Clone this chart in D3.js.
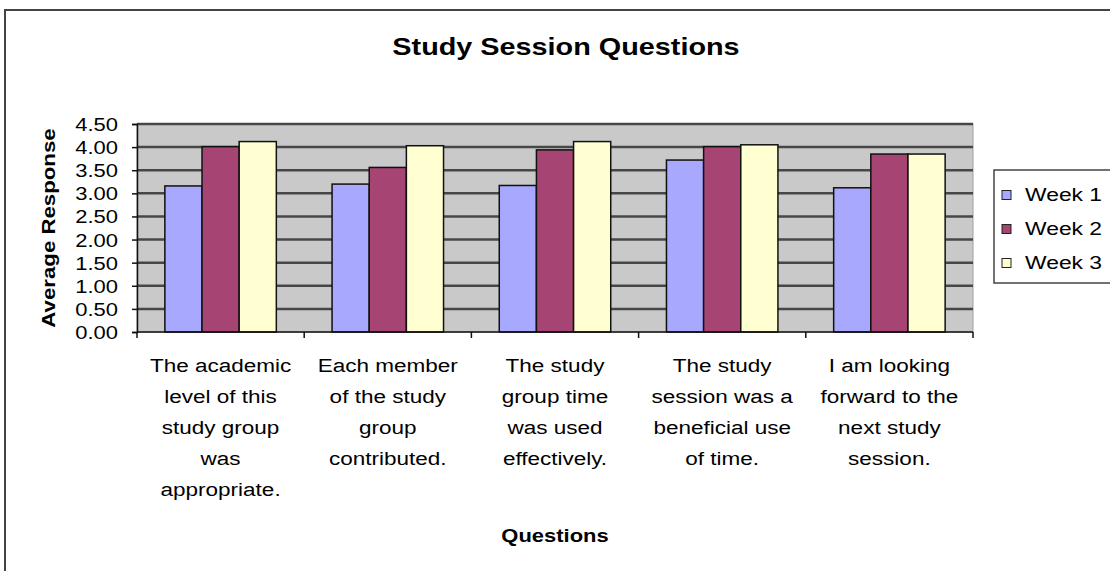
<!DOCTYPE html>
<html>
<head>
<meta charset="utf-8">
<script src="https://cdn.jsdelivr.net/npm/d3@7"></script>
<style>
  html, body { margin: 0; padding: 0; background: #fff; }
  svg { display: block; font-family: "Liberation Sans", Arial, sans-serif; }
</style>
</head>
<body>
<svg id="chart" width="1110" height="571"></svg>
<script>
// ---- data ----
const categories = [
  ["The academic", "level of this", "study group", "was", "appropriate."],
  ["Each member", "of the study", "group", "contributed."],
  ["The study", "group time", "was used", "effectively."],
  ["The study", "session was a", "beneficial use", "of time."],
  ["I am looking", "forward to the", "next study", "session."]
];
const seriesNames = ["Week 1", "Week 2", "Week 3"];
const week1 = [3.16, 3.20, 3.17, 3.72, 3.12];
const week2 = [4.01, 3.56, 3.94, 4.01, 3.85];
const week3 = [4.12, 4.03, 4.12, 4.05, 3.85];
const yTicks = [0, 0.5, 1, 1.5, 2, 2.5, 3, 3.5, 4, 4.5];
const title = "Study Session Questions";
const yTitle = "Average Response";
const xTitle = "Questions";

const seriesValues = [week1, week2, week3];
const colors = ["#a8a8ff", "#a64573", "#ffffd2"];

// ---- layout ----
const svg = d3.select("#chart");
const plot = { left: 137, right: 973, top: 124, bottom: 332 };
const STRETCH = 1.22;

function stretch(sel, f) {
  sel.each(function () {
    const len = this.getComputedTextLength();
    d3.select(this).attr("textLength", len * (f || STRETCH)).attr("lengthAdjust", "spacingAndGlyphs");
  });
}

// outer frame
svg.append("rect")
  .attr("x", 5).attr("y", 10).attr("width", 1200).attr("height", 700)
  .attr("fill", "#fff").attr("stroke", "#444").attr("stroke-width", 2);

// title
svg.append("text")
  .attr("x", 566).attr("y", 55)
  .attr("text-anchor", "middle")
  .attr("font-size", 24).attr("font-weight", "bold").attr("fill", "#000")
  .text(title)
  .call(stretch, 1.2);

const keys = categories.map((c, i) => i);
const x0 = d3.scaleBand().domain(keys).range([plot.left, plot.right]).padding(0);
const x1 = d3.scaleBand().domain(seriesNames).range([0, x0.bandwidth()]).paddingInner(0).paddingOuter(0.75);
const y = d3.scaleLinear().domain([0, 4.5]).range([plot.bottom, plot.top]);

// plot background
svg.append("rect")
  .attr("x", plot.left).attr("y", plot.top)
  .attr("width", plot.right - plot.left).attr("height", plot.bottom - plot.top)
  .attr("fill", "#c9c9c9").attr("stroke", "#a0a0a0").attr("stroke-width", 1);

// gridlines
svg.append("g")
  .selectAll("line").data(yTicks.filter(d => d > 0)).join("line")
  .attr("x1", plot.left).attr("x2", plot.right)
  .attr("y1", d => y(d)).attr("y2", d => y(d))
  .attr("stroke", "#474747").attr("stroke-width", 2.5);

// bars
const groups = svg.append("g").selectAll("g").data(keys).join("g")
  .attr("transform", d => `translate(${x0(d)},0)`);
groups.selectAll("rect")
  .data(i => seriesNames.map((s, j) => ({ s, j, v: seriesValues[j][i] })))
  .join("rect")
  .attr("x", d => x1(d.s))
  .attr("y", d => y(d.v))
  .attr("width", x1.bandwidth())
  .attr("height", d => y(0) - y(d.v))
  .attr("fill", d => colors[d.j])
  .attr("stroke", "#111").attr("stroke-width", 1.5);

// y axis
const yAxis = d3.axisLeft(y).tickValues(yTicks).tickFormat(d3.format(".2f")).tickSize(5).tickPadding(14);
const yg = svg.append("g").attr("transform", `translate(${plot.left},0)`).call(yAxis);
yg.select(".domain").attr("stroke", "#111").attr("stroke-width", 1.5);
yg.selectAll(".tick line").attr("stroke", "#111").attr("stroke-width", 1.5);
yg.selectAll(".tick text")
  .attr("font-size", 18).attr("fill", "#000").attr("font-family", "Liberation Sans, Arial, sans-serif")
  .attr("dy", "0.36em")
  .call(stretch);

// x axis (ticks at category boundaries)
const boundaries = keys.map(k => x0(k)).concat([plot.right]);
svg.append("line")
  .attr("x1", plot.left).attr("x2", plot.right)
  .attr("y1", plot.bottom).attr("y2", plot.bottom)
  .attr("stroke", "#111").attr("stroke-width", 1.5);
svg.append("g").selectAll("line").data(boundaries).join("line")
  .attr("x1", d => d).attr("x2", d => d)
  .attr("y1", plot.bottom).attr("y2", plot.bottom + 6)
  .attr("stroke", "#111").attr("stroke-width", 1.5);

// x labels
const lineH = 31;
const lbl = svg.append("g");
keys.forEach(k => {
  const cx = x0(k) + x0.bandwidth() / 2;
  categories[k].forEach((line, li) => {
    lbl.append("text")
      .attr("x", cx).attr("y", 372 + li * lineH)
      .attr("text-anchor", "middle")
      .attr("font-size", 18).attr("fill", "#000")
      .text(line)
      .call(stretch, 1.25);
  });
});

// axis titles
svg.append("text")
  .attr("x", (plot.left + plot.right) / 2).attr("y", 542)
  .attr("text-anchor", "middle")
  .attr("font-size", 18).attr("font-weight", "bold").attr("fill", "#000")
  .text(xTitle)
  .call(stretch);

svg.append("text")
  .attr("transform", `translate(55,${(plot.top + plot.bottom) / 2}) rotate(-90)`)
  .attr("text-anchor", "middle")
  .attr("font-size", 19).attr("font-weight", "bold").attr("fill", "#000")
  .text(yTitle)
  .call(stretch, 1.17);

// legend
const legend = svg.append("g");
legend.append("rect")
  .attr("x", 994).attr("y", 170).attr("width", 140).attr("height", 113)
  .attr("fill", "#fff").attr("stroke", "#444").attr("stroke-width", 1.5);
const legY = d3.scalePoint().domain(seriesNames).range([195, 263]);
const items = legend.selectAll("g.item").data(seriesNames).join("g").attr("class", "item")
  .attr("transform", d => `translate(0,${legY(d)})`);
items.append("rect")
  .attr("x", 1002).attr("y", -4.5).attr("width", 9).attr("height", 9)
  .attr("fill", (d, i) => colors[i]).attr("stroke", "#222").attr("stroke-width", 1);
items.append("text")
  .attr("x", 1025).attr("y", 0).attr("dy", "0.36em")
  .attr("font-size", 18).attr("fill", "#000")
  .text(d => d)
  .call(stretch, 1.27);
</script>
</body>
</html>
